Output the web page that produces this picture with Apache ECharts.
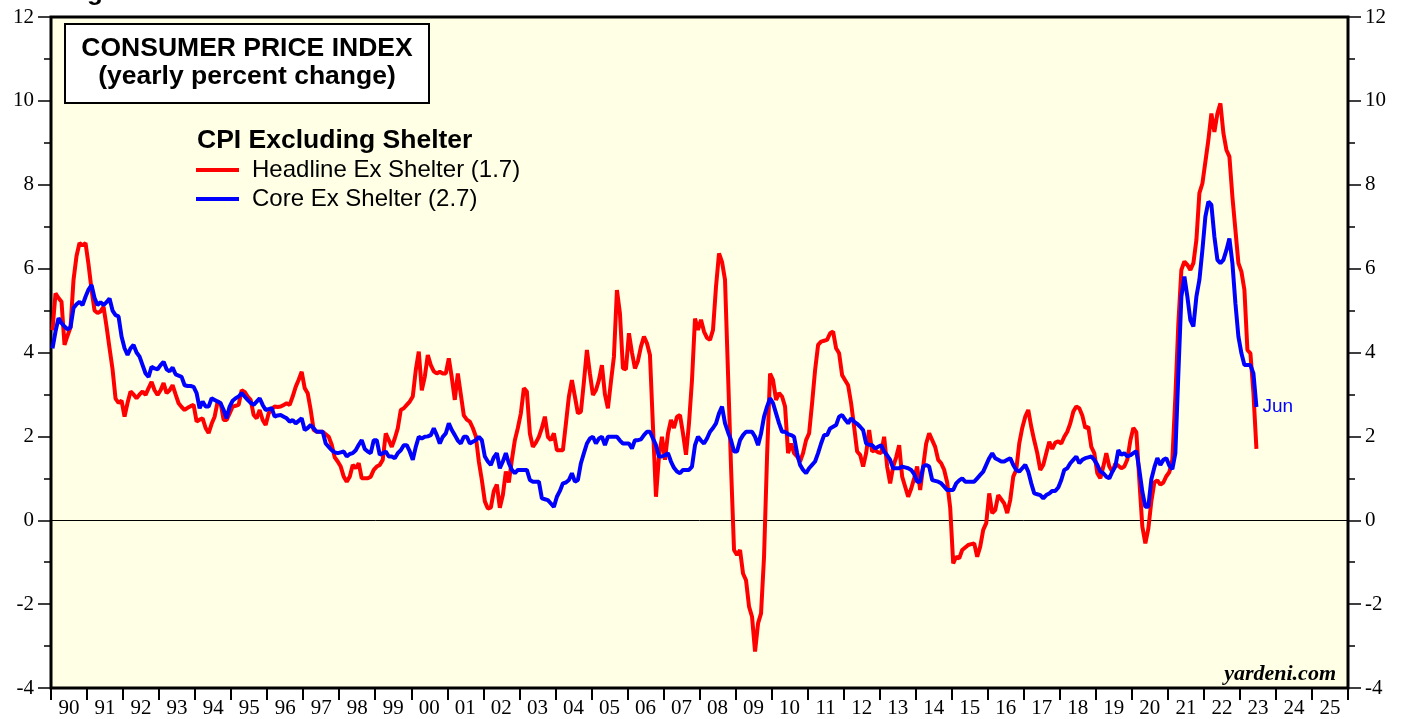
<!DOCTYPE html>
<html><head><meta charset="utf-8">
<script src="https://cdn.jsdelivr.net/npm/echarts@6/dist/echarts.min.js"></script>
<style>html,body{margin:0;padding:0;background:#fff}#c{width:1407px;height:719px}</style>
</head><body><div id="c"></div>
<script>
// ---- data (monthly, Jan 1990 .. Jun 2023) ----
const startYear = 1990;
const yearLabels = ['90','91','92','93','94','95','96','97','98','99','00','01','02','03','04','05','06','07','08','09','10','11','12','13','14','15','16','17','18','19','20','21','22','23','24','25'];
const headline = [
4.53,5.41,5.30,5.21,4.18,4.40,4.60,5.73,6.30,6.61,6.55,6.61,
6.10,5.50,5.00,4.94,4.98,5.09,4.62,4.10,3.60,2.90,2.80,2.85,
2.47,2.80,3.07,3.00,2.91,3.00,3.07,2.99,3.15,3.30,3.10,2.99,
3.10,3.27,3.03,3.10,3.22,3.00,2.79,2.70,2.63,2.68,2.72,2.75,
2.35,2.40,2.43,2.20,2.08,2.30,2.47,2.83,2.79,2.39,2.39,2.55,
2.71,2.73,2.75,3.10,3.06,2.95,2.87,2.51,2.43,2.63,2.39,2.27,
2.55,2.65,2.71,2.70,2.71,2.75,2.79,2.75,2.95,3.18,3.35,3.54,
3.15,3.03,2.63,2.15,2.11,2.11,2.11,2.05,1.99,1.80,1.50,1.40,
1.28,1.04,0.92,1.04,1.32,1.24,1.36,1.00,1.00,1.00,1.04,1.20,
1.28,1.32,1.44,2.07,1.91,1.75,1.95,2.19,2.63,2.67,2.75,2.83,
2.95,3.58,4.02,3.10,3.42,3.94,3.70,3.55,3.50,3.54,3.50,3.50,
3.86,3.40,2.87,3.50,3.00,2.50,2.40,2.35,2.20,2.00,1.40,0.96,
0.45,0.28,0.30,0.70,0.85,0.30,0.60,1.16,0.90,1.44,1.91,2.20,
2.55,3.15,3.07,2.07,1.75,1.85,1.99,2.20,2.47,1.99,1.91,2.07,
1.67,1.67,1.67,2.30,2.95,3.34,2.95,2.55,2.59,3.30,4.06,3.50,
2.99,3.10,3.34,3.70,3.00,2.67,3.30,3.90,5.49,4.93,3.62,3.60,
4.46,4.00,3.62,3.80,4.14,4.38,4.22,3.94,2.23,0.56,1.52,1.99,
1.44,2.07,2.39,2.20,2.47,2.51,2.07,1.56,2.31,3.34,4.81,4.54,
4.78,4.50,4.35,4.30,4.54,5.57,6.36,6.16,5.73,3.50,1.28,-0.71,
-0.83,-0.71,-1.27,-1.43,-2.06,-2.30,-3.13,-2.46,-2.22,-0.87,1.52,3.50,
3.34,2.87,3.03,2.95,2.71,1.60,1.83,1.60,1.52,1.40,1.60,1.91,
2.07,2.79,3.58,4.18,4.26,4.28,4.30,4.46,4.50,4.10,3.98,3.46,
3.34,3.22,2.79,2.23,1.64,1.56,1.28,1.60,2.15,1.64,1.67,1.62,
1.60,1.99,1.28,0.88,1.28,1.50,1.79,1.04,0.80,0.56,0.75,1.00,
1.28,0.72,1.28,1.83,2.07,1.91,1.75,1.44,1.36,1.20,0.90,0.30,
-1.03,-0.87,-0.91,-0.71,-0.65,-0.59,-0.57,-0.55,-0.87,-0.63,-0.23,-0.07,
0.64,0.17,0.24,0.60,0.50,0.40,0.17,0.48,1.04,1.20,1.83,2.20,
2.47,2.63,2.23,1.90,1.60,1.20,1.32,1.60,1.87,1.70,1.85,1.88,
1.83,1.99,2.11,2.31,2.59,2.71,2.67,2.50,2.20,2.23,1.75,1.60,
1.12,1.00,1.28,1.60,1.28,1.16,1.35,1.30,1.24,1.28,1.45,1.90,
2.20,2.10,0.95,-0.15,-0.55,-0.20,0.45,0.90,0.95,0.85,0.90,1.05,
1.15,1.45,2.95,4.70,5.97,6.17,6.09,5.97,6.13,6.68,7.80,8.03,
8.55,9.07,9.70,9.26,9.70,9.94,9.23,8.83,8.67,7.71,6.92,6.13,
5.93,5.49,4.06,3.98,3.03,1.70
];
const core = [
4.10,4.50,4.82,4.70,4.62,4.55,4.60,5.06,5.15,5.21,5.13,5.33,
5.50,5.61,5.30,5.13,5.20,5.13,5.20,5.29,5.00,4.89,4.86,4.38,
4.10,3.94,4.10,4.18,4.00,3.90,3.70,3.50,3.42,3.66,3.62,3.60,
3.70,3.78,3.60,3.55,3.64,3.48,3.45,3.42,3.22,3.20,3.20,3.18,
3.03,2.67,2.83,2.71,2.71,2.91,2.87,2.83,2.79,2.63,2.43,2.71,
2.85,2.91,2.95,3.03,2.95,2.87,2.80,2.75,2.83,2.91,2.75,2.63,
2.65,2.67,2.47,2.50,2.51,2.47,2.43,2.35,2.39,2.31,2.37,2.43,
2.15,2.20,2.27,2.19,2.11,2.11,2.11,1.83,1.75,1.67,1.62,1.60,
1.62,1.64,1.52,1.58,1.60,1.67,1.80,1.91,1.70,1.64,1.60,1.91,
1.91,1.56,1.60,1.64,1.52,1.52,1.48,1.60,1.67,1.79,1.79,1.64,
1.44,1.75,1.99,1.95,1.99,2.00,2.03,2.19,2.03,1.83,1.99,2.07,
2.31,2.15,2.03,1.90,1.83,1.99,1.99,1.83,1.87,1.91,1.99,1.91,
1.52,1.40,1.32,1.50,1.60,1.24,1.40,1.60,1.36,1.20,1.12,1.20,
1.20,1.20,1.20,0.96,0.92,0.92,0.92,0.52,0.50,0.48,0.40,0.32,
0.56,0.70,0.88,0.90,0.96,1.12,0.92,0.96,1.36,1.60,1.83,1.95,
1.99,1.83,1.95,1.99,1.79,1.99,1.99,1.99,1.99,1.90,1.83,1.83,
1.83,1.71,1.91,1.91,1.93,2.03,2.11,2.11,1.95,1.79,1.52,1.52,
1.55,1.60,1.40,1.25,1.16,1.12,1.20,1.20,1.20,1.28,1.79,1.99,
1.90,1.83,1.95,2.11,2.20,2.31,2.55,2.71,2.31,2.10,1.91,1.64,
1.64,1.91,2.03,2.11,2.11,2.11,1.99,1.79,2.07,2.47,2.71,2.91,
2.79,2.55,2.31,2.11,2.11,2.05,2.03,1.99,1.60,1.32,1.20,1.12,
1.24,1.32,1.40,1.60,1.83,2.03,2.03,2.19,2.23,2.27,2.47,2.51,
2.40,2.31,2.43,2.35,2.30,2.23,2.15,1.83,1.80,1.79,1.71,1.75,
1.79,1.64,1.55,1.44,1.24,1.24,1.24,1.28,1.26,1.24,1.20,1.10,
0.92,0.92,1.28,1.32,1.28,0.96,0.94,0.92,0.88,0.80,0.72,0.72,
0.72,0.88,0.95,1.00,0.92,0.92,0.92,0.92,1.00,1.08,1.16,1.32,
1.48,1.60,1.48,1.44,1.40,1.40,1.44,1.48,1.32,1.20,1.16,1.24,
1.32,1.16,0.88,0.64,0.62,0.60,0.52,0.60,0.64,0.70,0.70,0.78,
0.96,1.20,1.24,1.36,1.44,1.52,1.36,1.44,1.48,1.50,1.52,1.44,
1.32,1.16,1.12,1.04,1.00,1.16,1.28,1.67,1.56,1.60,1.52,1.55,
1.60,1.65,1.20,0.68,0.32,0.32,0.98,1.26,1.48,1.32,1.44,1.48,
1.30,1.22,1.60,3.50,5.33,5.81,5.33,4.77,4.62,5.33,5.73,6.44,
7.24,7.60,7.52,6.76,6.21,6.13,6.21,6.44,6.72,6.13,5.17,4.38,
3.98,3.70,3.70,3.70,3.50,2.70
];
const seriesNames = ['Headline Ex Shelter (1.7)', 'Core Ex Shelter (2.7)'];
const lastLabel = 'Jun';

// ---- chart ----
const toPts = arr => arr.map((v, i) => [startYear + (i + 0.5) / 12, v]);
const serif = '"Liberation Serif", "Times New Roman", serif';
const sans = '"Liberation Sans", Arial, sans-serif';
const chart = echarts.init(document.getElementById('c'), null, {renderer: 'canvas'});
const yAxisBase = pos => ({
  type: 'value', min: -4, max: 12, interval: 2, position: pos,
  splitLine: {show: false},
  axisLine: {show: false, onZero: false},
  axisTick: {show: true, length: 13, lineStyle: {color: '#000', width: 1.5}},
  minorTick: {show: true, splitNumber: 2, length: 7, lineStyle: {color: '#000', width: 1.5}},
  axisLabel: {color: '#000', fontFamily: serif, fontSize: 21, margin: 17}
});
chart.setOption({
  animation: false,
  backgroundColor: '#ffffff',
  grid: {left: 51, right: 59, top: 17, bottom: 31, show: true, backgroundColor: '#FFFFE6', borderColor: '#000', borderWidth: 3},
  xAxis: [
    {type: 'value', min: startYear, max: 2026, show: false},
    {type: 'category', data: yearLabels, position: 'bottom', boundaryGap: true,
     axisLine: {show: false, onZero: false},
     axisTick: {show: true, length: 12, interval: 0, lineStyle: {color: '#000', width: 2}},
     axisLabel: {interval: 0, color: '#000', fontFamily: serif, fontSize: 21, margin: 10}}
  ],
  yAxis: [yAxisBase('left'), yAxisBase('right')],
  legend: {
    data: seriesNames, orient: 'vertical', left: 196, top: 158, itemGap: 5,
    icon: 'rect', itemWidth: 43, itemHeight: 4, padding: 0,
    textStyle: {color: '#000', fontFamily: sans, fontSize: 24, lineHeight: 24, padding: [0, 0, 0, 8]}
  },
  graphic: [
    {type: 'text', left: 64, top: -20, style: {text: 'Figure 6.', font: 'bold 26px ' + sans, fill: '#000'}},
    {type: 'rect', shape: {x: 65, y: 24, width: 364, height: 79}, style: {fill: '#fff', stroke: '#000', lineWidth: 2}, z: 10},
    {type: 'text', x: 247, y: 49, z: 11, style: {text: 'CONSUMER PRICE INDEX', font: 'bold 26.5px ' + sans, fill: '#000', align: 'center', verticalAlign: 'middle', textAlign: 'center', textVerticalAlign: 'middle'}},
    {type: 'text', x: 247, y: 77, z: 11, style: {text: '(yearly percent change)', font: 'bold 26.5px ' + sans, fill: '#000', align: 'center', verticalAlign: 'middle', textAlign: 'center', textVerticalAlign: 'middle'}},
    {type: 'text', x: 197, y: 141, z: 11, style: {text: 'CPI Excluding Shelter', font: 'bold 26.5px ' + sans, fill: '#000', align: 'left', verticalAlign: 'middle', textAlign: 'left', textVerticalAlign: 'middle'}},
    {type: 'text', x: 1336, y: 674, z: 11, style: {text: 'yardeni.com', font: 'italic bold 22px ' + serif, fill: '#000', align: 'right', verticalAlign: 'middle', textAlign: 'right', textVerticalAlign: 'middle'}}
  ],
  series: [
    {name: seriesNames[0], type: 'line', xAxisIndex: 0, yAxisIndex: 0, data: toPts(headline),
     showSymbol: false, symbol: 'none', z: 3,
     lineStyle: {color: '#FF0000', width: 4}, itemStyle: {color: '#FF0000'},
     markLine: {silent: true, symbol: 'none', label: {show: false}, z: 1,
       lineStyle: {color: '#000', width: 1, type: 'solid'}, data: [{yAxis: 0}]}},
    {name: seriesNames[1], type: 'line', xAxisIndex: 0, yAxisIndex: 0, data: toPts(core),
     showSymbol: false, symbol: 'none', z: 4,
     lineStyle: {color: '#0000FF', width: 4}, itemStyle: {color: '#0000FF'},
     endLabel: {show: true, formatter: lastLabel, color: '#0000FF', fontFamily: sans, fontSize: 19, distance: 6}}
  ]
});
</script>
</body></html>
